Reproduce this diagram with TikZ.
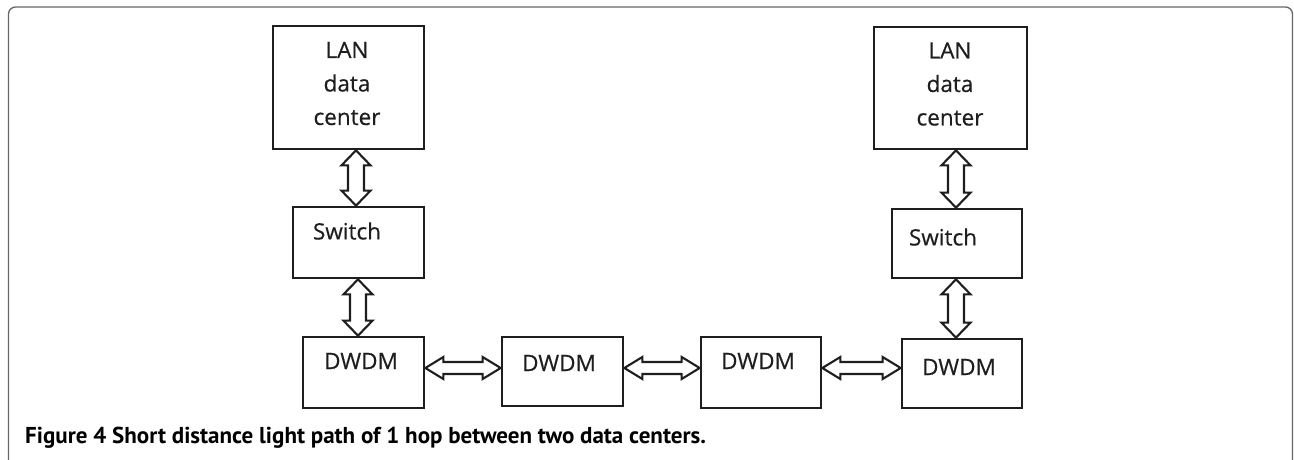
\documentclass[tikz,border=0pt]{standalone}
\usepackage{fontspec}
\setmainfont{Open Sans}
\newfontfamily\boxfont[FakeBold=0.5]{Open Sans}
\newfontfamily\capfont{PT Sans}
\usetikzlibrary{calc}
\definecolor{ink}{HTML}{1E1E1E}
\definecolor{framegray}{HTML}{666666}
\tikzset{
  box/.style={draw=ink, line width=2.7pt, rectangle, inner sep=0pt},
  txt/.style={text=ink, font=\boxfont\fontsize{22.5}{33.5}\selectfont, align=center, inner sep=0pt},
  blockarrow/.style={draw=ink, line width=2.1pt, fill=white, line join=miter},
}
% vertical double block arrow: #1 = x (pt), #2 upper node, #3 lower node
\newcommand\vdarrow[3]{%
  \draw[blockarrow] let \p1=(#2.south), \p2=(#3.north) in
    ({#1pt},{\y1}) -- ({#1pt+14.5pt},{\y1-15pt}) -- ({#1pt+8pt},{\y1-15pt})
    -- ({#1pt+8pt},{\y2+15pt}) -- ({#1pt+14.5pt},{\y2+15pt}) -- ({#1pt},{\y2})
    -- ({#1pt-14.5pt},{\y2+15pt}) -- ({#1pt-8pt},{\y2+15pt})
    -- ({#1pt-8pt},{\y1-15pt}) -- ({#1pt-14.5pt},{\y1-15pt}) -- cycle;}
% horizontal double block arrow: #1 = y (pt), #2 left node, #3 right node
\newcommand\hdarrow[3]{%
  \draw[blockarrow] let \p1=(#2.east), \p2=(#3.west) in
    ({\x1},{#1pt}) -- ({\x1+18pt},{#1pt+11pt}) -- ({\x1+18pt},{#1pt+6pt})
    -- ({\x2-18pt},{#1pt+6pt}) -- ({\x2-18pt},{#1pt+11pt}) -- ({\x2},{#1pt})
    -- ({\x2-18pt},{#1pt-11pt}) -- ({\x2-18pt},{#1pt-6pt})
    -- ({\x1+18pt},{#1pt-6pt}) -- ({\x1+18pt},{#1pt-11pt}) -- cycle;}
\begin{document}
\begin{tikzpicture}[x=1pt,y=1pt]
\useasboundingbox (0,0) rectangle (1294,459);
% frame
\draw[framegray, line width=1.3pt, rounded corners=7pt]
  (8.5,-2) -- (8.5,452) -- (1292.5,452) -- (1292.5,-2);
% left column
\node[box, minimum width=151pt, minimum height=123pt] (lan1) at (348.5,371.5) {};
\node[txt] (lan1t) at (347,375.5) {LAN\\data\\center};
\node[box, minimum width=131pt, minimum height=71pt] (sw1) at (358.5,216.5) {};
\node[txt] (sw1t) at (347,228) {Switch};
\node[box, minimum width=121pt, minimum height=71pt] (d1) at (363.5,86.5) {};
\node[txt] (d1t) at (361,98) {DWDM};
% middle
\node[box, minimum width=121pt, minimum height=69pt] (d2) at (562.5,87.5) {};
\node[txt] (d2t) at (559,96) {DWDM};
\node[box, minimum width=120pt, minimum height=71pt] (d3) at (761,86.5) {};
\node[txt] (d3t) at (758,98) {DWDM};
% right column
\node[box, minimum width=153pt, minimum height=122pt] (lan2) at (950.5,371) {};
\node[txt] (lan2t) at (950,375) {LAN\\data\\center};
\node[box, minimum width=130pt, minimum height=69pt] (sw2) at (957,215.5) {};
\node[txt] (sw2t) at (943,222) {Switch};
\node[box, minimum width=120pt, minimum height=69pt] (d4) at (962,85.5) {};
\node[txt] (d4t) at (959,92) {DWDM};
% arrows
\vdarrow{356}{lan1}{sw1}
\vdarrow{358}{sw1}{d1}
\vdarrow{956}{lan2}{sw2}
\vdarrow{956}{sw2}{d4}
\hdarrow{91}{d1}{d2}
\hdarrow{91}{d2}{d3}
\hdarrow{91}{d3}{d4}
% caption
\node[anchor=base west, inner sep=0pt, font=\capfont\bfseries\fontsize{23}{26}\selectfont] (cap) at (25,16)
  {Figure 4 Short distance light path of 1 hop between two data centers.};
\end{tikzpicture}
\end{document}
